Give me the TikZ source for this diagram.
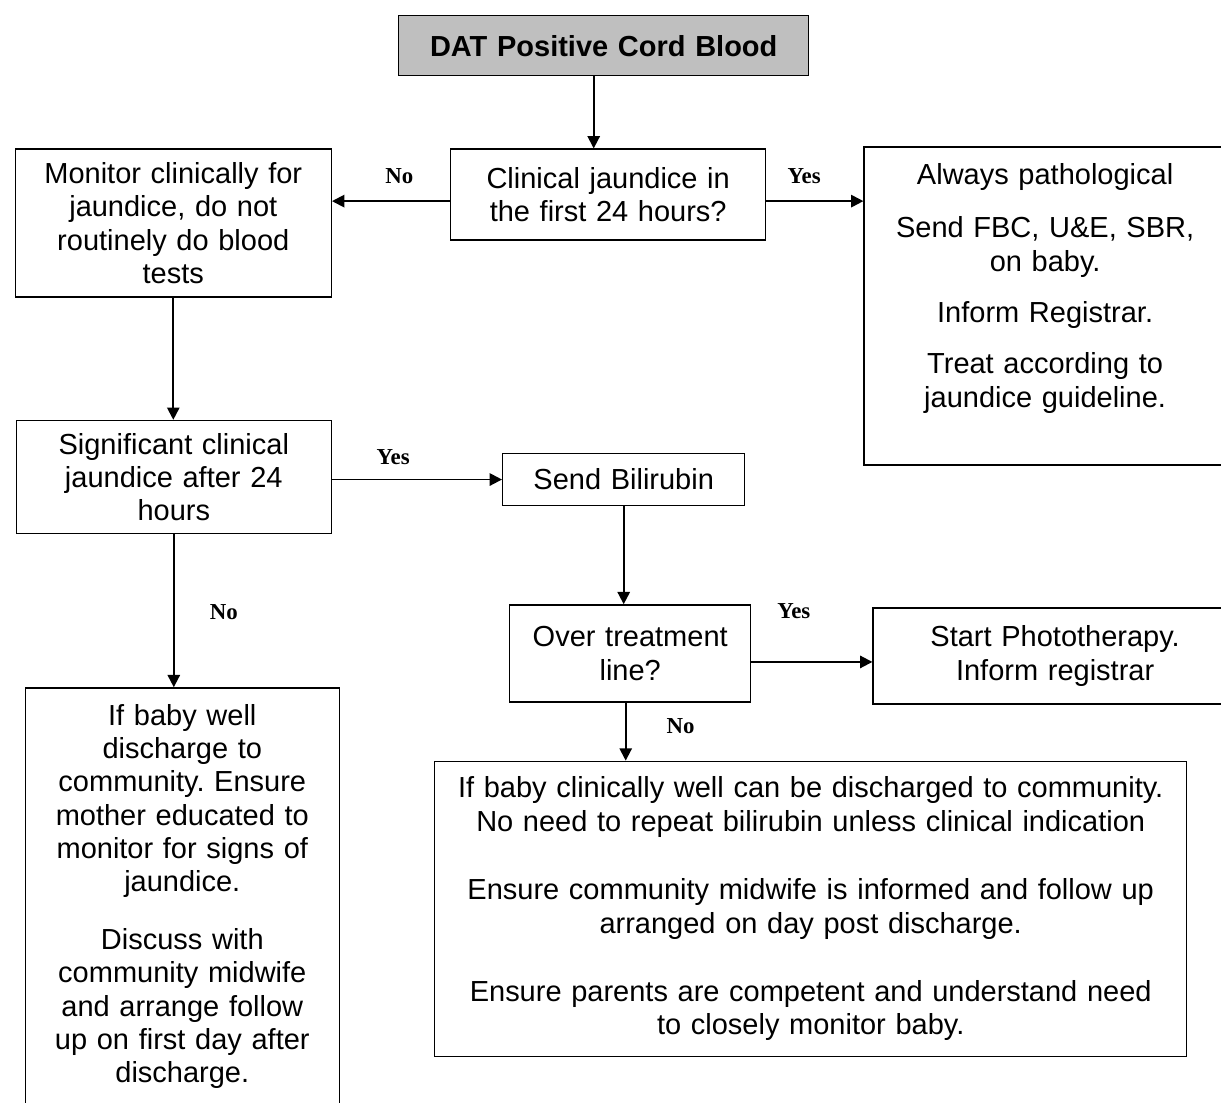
\documentclass[tikz,border=0pt]{standalone}
\usepackage{fontspec}
\setmainfont{Liberation Sans}
\newfontfamily\labelserif{Liberation Serif}
\usetikzlibrary{positioning,arrows.meta}
\newcommand{\boxfont}{\fontsize{16.5}{19}\selectfont}
\frenchspacing

\begin{document}
\begin{tikzpicture}[
  box/.style={draw, thick, align=center, inner xsep=0.1cm, inner ysep=0.1cm, font=\boxfont},
  startbox/.style={box, fill=black!25, font=\boxfont\bfseries},
  lbl/.style={font=\labelserif\bfseries\fontsize{13}{15}\selectfont, inner sep=0pt},
  arr/.style={-{Triangle[length=7pt, width=7pt]}, line width=1.1pt}]
  \useasboundingbox (0,0) rectangle (24.42,-22.04);
  \node[startbox, text width=8cm, minimum height=1.2cm, anchor=north west] (dat) at (7.96,-0.30) {DAT Positive Cord Blood};
  \node[box, text width=6.1cm, minimum height=1.82cm, below=1.44cm of dat, xshift=0.09cm] (clin) {Clinical jaundice in\\ the first 24 hours?};
  \node[box, text width=6.12cm, minimum height=2.96cm, left=2.36cm of clin.north west, anchor=north east] (mon) {Monitor clinically for\\ jaundice, do not\\ routinely do blood\\ tests};
  \node[box, text width=7.04cm, minimum height=6.36cm, right=1.94cm of clin.north east, anchor=north west, yshift=0.04cm] (path) {Always pathological\\[0.4cm] Send FBC, U\&E, SBR,\\ on baby.\\[0.36cm] Inform Registrar.\\[0.36cm] Treat according to\\ jaundice guideline.\\[4.8pt]\mbox{}};
  \node[box, text width=6.1cm, minimum height=2.26cm, below=2.44cm of mon.south west, anchor=north west, xshift=0.02cm] (sig) {Significant clinical\\ jaundice after 24\\ hours};
  \node[box, text width=4.64cm, minimum height=1.04cm, right=3.4cm of sig.north east, anchor=north west, yshift=-0.66cm] (bili) {Send Bilirubin};
  \node[box, text width=4.62cm, minimum height=1.94cm, below=1.96cm of bili.south west, anchor=north west, xshift=0.14cm] (over) {Over treatment\\ line?};
  \node[box, text width=7.08cm, minimum height=1.92cm, right=2.42cm of over.north east, anchor=north west, yshift=-0.06cm] (photo) {Start Phototherapy.\\ Inform registrar};
  \node[box, text width=14.84cm, minimum height=5.9cm, below=1.16cm of over.south west, anchor=north west, xshift=-1.5cm] (disch) {If baby clinically well can be discharged to community.\\ No need to repeat bilirubin unless clinical indication\\[0.7cm] Ensure community midwife is informed and follow up\\ arranged on day post discharge.\\[0.7cm] Ensure parents are competent and understand need\\ to closely monitor baby.};
  \node[box, text width=6.08cm, minimum height=8.58cm, below=3.06cm of sig.south west, anchor=north west, xshift=0.18cm] (well) {If baby well\\ discharge to\\ community. Ensure\\ mother educated to\\ monitor for signs of\\ jaundice.\\[0.48cm] Discuss with\\ community midwife\\ and arrange follow\\ up on first day after\\ discharge.\\[-8.8pt]\mbox{}};
  \draw[arr] ([xshift=-0.2cm]dat.south) -- ([xshift=-0.2cm]dat.south |- clin.north);
  \draw[arr] ([yshift=-0.13cm]clin.west) -- node[lbl, pos=0.43, above=0.33cm] {No} ([yshift=-0.13cm]clin.west -| mon.east);
  \draw[arr] ([yshift=-0.13cm]clin.east) -- node[lbl, pos=0.39, above=0.33cm] {Yes} ([yshift=-0.13cm]clin.east -| path.west);
  \draw[arr] (mon.south) -- (mon.south |- sig.north);
  \draw[arr] (sig.east |- bili.west) -- node[lbl, pos=0.36, above=0.28cm] {Yes} (bili.west);
  \draw[arr] (bili.south) -- (bili.south |- over.north);
  \draw[arr] ([yshift=-0.17cm]over.east) -- node[lbl, pos=0.35, above=0.84cm] {Yes} ([yshift=-0.17cm]over.east -| photo.west);
  \draw[arr] ([xshift=-0.09cm]over.south) -- node[lbl, pos=0.4, right=0.8cm] {No} ([xshift=-0.09cm]over.south |- disch.north);
  \draw[arr] (sig.south) -- node[lbl, pos=0.51, right=0.7cm] {No} (sig.south |- well.north);
\end{tikzpicture}
\end{document}
